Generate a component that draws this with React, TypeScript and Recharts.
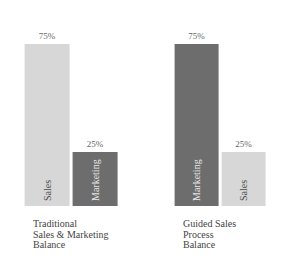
import { BarChart, Bar, XAxis, YAxis, LabelList, Cell } from "recharts";

const leftCategories = ["Sales", "Marketing"];
const leftValues = [75, 25];
const leftCaption = ["Traditional", "Sales & Marketing", "Balance"];

const rightCategories = ["Marketing", "Sales"];
const rightValues = [75, 25];
const rightCaption = ["Guided Sales", "Process", "Balance"];

const LIGHT = "#d7d7d7";
const DARK = "#6d6d6d";
const FONT = "'Liberation Serif', serif";

const colorFor = (name: string) => (name === "Sales" ? LIGHT : DARK);

function InsideLabel(props: any) {
  const { x, y, width, height, value } = props;
  const cx = x + width / 2;
  const by = y + height - 5;
  return (
    <text
      x={cx}
      y={by}
      transform={`rotate(-90 ${cx} ${by})`}
      textAnchor="start"
      dominantBaseline="central"
      fontFamily={FONT}
      fontSize={10}
      fill={value === "Sales" ? "#4a4a4a" : "#e8e8e8"}
    >
      {value}
    </text>
  );
}

interface PanelProps {
  categories: string[];
  values: number[];
  caption: string[];
  left: number;
  marginLeft: number;
  marginRight: number;
}

function Panel({ categories, values, caption, left, marginLeft, marginRight }: PanelProps) {
  const data = categories.map((name, i) => ({ name, value: values[i] }));
  return (
    <div style={{ position: "absolute", left, top: 0, width: 143, height: 270 }}>
      <BarChart
        width={143}
        height={270}
        data={data}
        margin={{ top: 44, right: marginRight, bottom: 64, left: marginLeft }}
        barCategoryGap={1.6}
      >
        <XAxis dataKey="name" hide />
        <YAxis hide domain={[0, 75]} />
        <Bar dataKey="value" isAnimationActive={false}>
          {data.map((d, i) => (
            <Cell key={`cell-${i}`} fill={colorFor(d.name)} />
          ))}
          <LabelList
            dataKey="value"
            position="top"
            offset={5}
            formatter={(v: any) => `${v}%`}
            style={{ fontFamily: FONT, fontSize: 9, fill: "#666" }}
          />
          <LabelList dataKey="name" content={<InsideLabel />} />
        </Bar>
      </BarChart>
      <div
        style={{
          position: "absolute",
          left: marginLeft + 10,
          top: 219,
          fontFamily: FONT,
          fontSize: 10,
          lineHeight: "10.7px",
          color: "#444",
          whiteSpace: "nowrap",
        }}
      >
        {caption.map((line) => (
          <div key={line}>{line}</div>
        ))}
      </div>
    </div>
  );
}

export default function App() {
  return (
    <div
      style={{
        position: "fixed",
        left: 0,
        top: 0,
        width: 287,
        height: 270,
        background: "#fff",
      }}
    >
      <Panel
        categories={leftCategories}
        values={leftValues}
        caption={leftCaption}
        left={0}
        marginLeft={23}
        marginRight={24}
      />
      <Panel
        categories={rightCategories}
        values={rightValues}
        caption={rightCaption}
        left={143}
        marginLeft={30}
        marginRight={19}
      />
    </div>
  );
}
